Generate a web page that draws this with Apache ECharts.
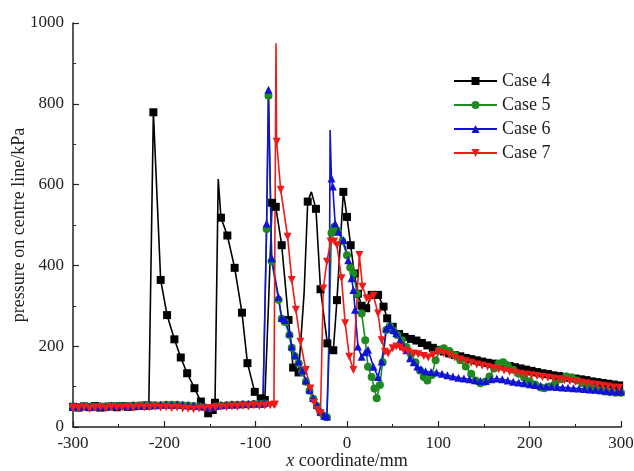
<!DOCTYPE html>
<html>
<head>
<meta charset="utf-8">
<script src="https://cdn.jsdelivr.net/npm/echarts@6/dist/echarts.min.js"></script>
<style>
  html, body { margin: 0; padding: 0; background: #fff; }
  #chart { width: 634px; height: 471px; }
</style>
</head>
<body>
<div id="chart"></div>
<script>
// Case 4 (black squares)
const case4X = [-300,-294,-288,-282,-276,-270,-264,-258,-252,-246,-240,-234,-228,-222,-217,
  -212,-204,-197,-189,-182,-175,-167,-160,-152,-147,-144.5,-141,-138,-131,-123,-115,-109,-101,-94.5,-90,
  -86,-82,-78,-71.5,-64,-59,-53,-47,-43,-39,-34,-29,-21.5,-15,-11,-4,0,4,8,12,16,21,27,34,40,44,50,57,63,70,76,
  82,88,94,100,106,112,118,124,130,136,142,148,154,160,166,172,178,184,190,196,202,208,214,220,226,232,238,244,
  250,256,262,268,274,280,286,292,298];
const case4Y = [50,48,51,49,52,48,50,51,49,52,50,51,52,53,53,
  779,364,277,217,172,133,96,63,34,42,60,614,518,474,394,283,158,87,71,67,
  300,555,545,450,265,147,135,330,558,582,540,341,207,190,314,582,520,450,380,330,300,294,327,327,298,269,248,230,223,218,214,
  208,202,196,191,187,182,178,175,171,168,165,162,159,157,155,153,151,148,145,142,139,136,133,131,128,126,124,122,
  120,118,116,113,111,109,107,105,103];
const case4NoMark = [-141, -86, -47, -39];

// Case 5 (green circles)
const case5X = [-300,-294,-288,-282,-276,-270,-264,-258,-252,-246,-240,-234,-228,-222,-216,-210,-204,-198,-192,-186,
  -180,-174,-168,-162,-156,-150,-144,-138,-132,-126,-120,-114,-108,-102,-96,-92,
  -90,-88,-86,-82.5,-75,-71.5,-68,-63,-60.5,-57,-53,-49,-45,-41,-37,-33,-29,-25,-22,
  -19,-17,-14,-10,-5,0,3.5,7,11,16,20,23,27,30,32.5,36,39,43,47,51,55,60,65,70,75,80,84,88,93,97,101,106,112,118,
  124,130,136,141,146,151,156,161,166,171,176,182,188,194,200,206,212,216,222,228,234,240,246,252,258,264,270,276,
  282,288,294,300];
const case5Y = [50,49,51,50,51,51,51,52,52,52,52,53,53,54,54,54,54,55,55,55,
  54,53,52,51,49,47,51,53,54,55,55,56,56,57,57,57,
  58,490,820,410,315,268,260,228,196,175,158,136,112,90,70,52,36,27,24,
  300,480,495,485,460,425,395,380,330,281,215,149,124,95,71,104,160,240,250,238,228,215,198,180,160,140,124,115,129,165,190,195,188,178,
  165,150,132,115,108,112,125,145,157,160,152,142,132,122,113,105,98,96,100,108,118,125,122,115,108,102,96,91,
  88,86,85,85];
const case5NoMark = [-19];

// Case 6 (blue triangles)
const case6X = [-300,-294,-288,-282,-276,-270,-264,-258,-252,-246,-240,-234,-228,-222,-216,-210,-204,-198,-192,-186,
  -180,-174,-168,-162,-156,-150,-144,-138,-132,-126,-120,-114,-108,-102,-96,-92,
  -90,-88,-86,-82.5,-75,-71.5,-68,-63,-60.5,-57,-53,-49,-45,-41,-37,-33,-29,-25,-22,
  -19.5,-18.5,-17,-15.6,-13,-9.5,-4,1.4,5,7,8.8,12,16,20,23,29,34,38,43,47,51,54,58,62,65,69,73,77,81,86,92,98,
  104,110,116,122,128,134,140,146,152,158,164,170,176,182,188,194,200,206,212,218,224,230,236,242,248,254,260,266,
  272,278,284,290,296,300];
const case6Y = [51,50,52,50,51,52,51,53,52,53,52,54,53,54,55,54,55,56,55,56,
  55,54,53,52,50,48,52,54,55,56,56,57,57,58,58,58,
  60,504,835,418,322,270,265,232,199,178,162,140,115,92,72,55,38,28,26,
  200,735,615,595,504,483,463,413,368,339,290,199,174,185,191,149,124,162,244,252,240,232,215,200,190,170,160,150,143,138,136,135,
  132,128,125,122,120,118,116,114,114,118,120,118,115,112,110,108,106,104,102,101,100,99,98,97,96,95,94,93,
  92,91,90,89,88,88];
const case6NoMark = [-19.5, -18.5];

// Case 7 (red inverted triangles)
const case7X = [-300,-294,-288,-282,-276,-270,-264,-258,-252,-246,-240,-234,-228,-222,-216,-210,-204,-198,-192,-186,
  -180,-174,-168,-162,-156,-150,-144,-138,-132,-126,-120,-114,-108,-102,-96,-90,-84,-80,
  -79,-77.7,-77,-72.6,-65,-60.5,-56,-51,-45,-40,-36,-32.5,-29,-26,-22,-18,-14,-11,-6,-2,2.5,7,10.5,13.5,17,21.5,25,29,
  34,38,41.6,45,50,54,58,62,67,73,78,84,89,94,100,106,112,118,124,130,136,142,148,154,160,166,172,178,184,190,196,
  202,208,214,220,226,232,238,244,250,256,262,268,274,280,286,292,298];
const case7Y = [47,46,48,45,47,48,46,49,47,48,49,47,50,48,49,50,48,49,47,48,
  46,45,44,46,45,47,48,50,49,51,50,52,51,53,52,53,54,55,
  55,950,706,587,471,364,290,211,141,95,60,42,34,343,409,459,459,450,368,257,174,141,300,426,347,318,318,325,
  281,215,186,182,195,199,197,190,186,182,180,176,172,178,185,182,178,172,167,163,159,155,152,149,146,143,140,137,134,132,130,
  128,126,124,122,120,118,116,114,112,110,108,106,104,102,100,98,97];
const case7NoMark = [-77.7, 10.5];

const xTicks = [-300, 300, 100];
const yTicks = [0, 1000, 200];

function makeData(xs, ys, noMark) {
  return xs.map(function (x, i) {
    if (noMark.indexOf(x) >= 0) return { value: [x, ys[i]], symbol: 'none' };
    return [x, ys[i]];
  });
}

const FONT = 'Liberation Serif';
const chart = echarts.init(document.getElementById('chart'), null, { renderer: 'canvas' });

function lineSeries(name, color, symbol, rotate, data) {
  return {
    name: name,
    type: 'line',
    data: data,
    symbol: symbol,
    symbolSize: 8,
    symbolRotate: rotate,
    lineStyle: { color: color, width: 1.6 },
    itemStyle: { color: color },
    emphasis: { disabled: true },
    animation: false
  };
}

chart.setOption({
  animation: false,
  grid: { left: 73, right: 13, top: 23, bottom: 44, outerBoundsMode: 'none', containLabel: false },
  legend: {
    orient: 'vertical',
    left: 448,
    top: 67,
    itemWidth: 43,
    itemHeight: 10,
    itemGap: 6,
    textStyle: { fontFamily: FONT, fontSize: 18, color: '#222' },
    data: ['Case 4', 'Case 5', 'Case 6', 'Case 7']
  },
  xAxis: {
    type: 'value',
    min: xTicks[0],
    max: xTicks[1],
    interval: xTicks[2],
    name: '{i|x} coordinate/mm',
    nameLocation: 'middle',
    nameGap: 25,
    nameMoveOverlap: false,
    nameTextStyle: {
      fontFamily: FONT, fontSize: 18, color: '#222',
      rich: { i: { fontFamily: FONT, fontSize: 18, fontStyle: 'italic', color: '#222' } }
    },
    axisLine: { onZero: false, lineStyle: { color: '#222', width: 1.5 } },
    axisTick: { inside: true, length: 6, lineStyle: { color: '#222', width: 1.2 } },
    minorTick: { show: true, splitNumber: 2, length: 3, lineStyle: { color: '#222', width: 1 } },
    axisLabel: { fontFamily: FONT, fontSize: 17, color: '#222', margin: 8 },
    splitLine: { show: false }
  },
  yAxis: {
    type: 'value',
    min: yTicks[0],
    max: yTicks[1],
    interval: yTicks[2],
    name: 'pressure on centre line/kPa',
    nameLocation: 'middle',
    nameGap: 45,
    nameMoveOverlap: false,
    nameTextStyle: { fontFamily: FONT, fontSize: 18, color: '#222' },
    axisLine: { show: true, onZero: false, lineStyle: { color: '#222', width: 1.5 } },
    axisTick: { show: true, inside: true, length: 6, lineStyle: { color: '#222', width: 1.2 } },
    minorTick: { show: true, splitNumber: 2, length: 3, lineStyle: { color: '#222', width: 1 } },
    axisLabel: { fontFamily: FONT, fontSize: 17, color: '#222', margin: 9, formatter: function (v) { return String(v); } },
    splitLine: { show: false }
  },
  series: [
    lineSeries('Case 4', '#000000', 'rect', 0, makeData(case4X, case4Y, case4NoMark)),
    lineSeries('Case 5', '#1f8a1f', 'circle', 0, makeData(case5X, case5Y, case5NoMark)),
    lineSeries('Case 6', '#1212d4', 'triangle', 0, makeData(case6X, case6Y, case6NoMark)),
    lineSeries('Case 7', '#ee1b1b', 'triangle', 180, makeData(case7X, case7Y, case7NoMark))
  ]
});
</script>
</body>
</html>
